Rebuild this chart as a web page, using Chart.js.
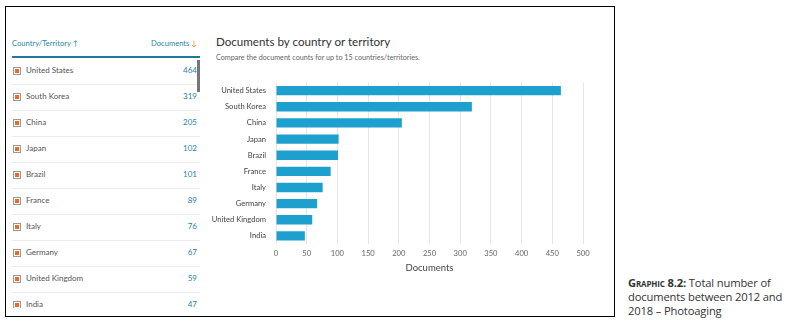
<!DOCTYPE html>
<html>
<head>
<meta charset="utf-8">
<script src="https://cdn.jsdelivr.net/npm/chart.js@4"></script>
<style>
  body { margin: 0; width: 787px; height: 321px; background: #fff; position: relative; font-family: Lato, "Open Sans", sans-serif; overflow: hidden; }
  #frame { position: absolute; left: 5px; top: 6px; width: 608px; height: 309px; border: 1px solid #000; }
  #tbl { position: absolute; left: 12px; top: 36px; width: 188px; height: 272px; overflow: hidden; }
  .hdr { position: absolute; top: 2px; height: 18px; font-size: 7.6px; color: #2a86a8; }
  #hline { position: absolute; left: 0; top: 20px; width: 188px; height: 1.5px; background: #1f7a9a; }
  .row { position: absolute; left: 0; width: 188px; height: 26px; border-bottom: 1px solid #ededed; font-size: 8px; color: #555; }
  .row .cb { position: absolute; left: 1px; top: 9px; width: 6px; height: 6px; border: 1px solid #999; background: #f26a22; box-shadow: inset 0 0 0 1px #fff; }
  .row .nm { position: absolute; left: 14px; top: 7px; }
  .row .vl { position: absolute; right: 3px; top: 7px; color: #2a7fa8; }
  #scroll { position: absolute; left: 197px; top: 60px; width: 3px; height: 32px; background: #777; }
  #title { position: absolute; left: 216px; top: 35px; font-size: 11.6px; color: #333; }
  #sub { position: absolute; left: 216px; top: 53px; font-size: 7.2px; color: #666; }
  #wrap { position: absolute; left: 205px; top: 76px; width: 400px; height: 202px; }
  #cap { position: absolute; left: 628px; top: 276px; font-size: 11.2px; letter-spacing: -0.15px; line-height: 14px; color: #333; font-family: "Open Sans", sans-serif; white-space: nowrap; }
  .sc { font-weight: bold; font-variant: small-caps; }
</style>
</head>
<body>
<div id="frame"></div>
<div id="tbl">
  <div class="hdr" style="left:0">Country/Territory <span>&#8593;</span></div>
  <div class="hdr" style="right:3px">Documents <span style="color:#f07a2a">&#8595;</span></div>
  <div id="hline"></div>
</div>
<div id="scroll"></div>
<div id="title">Documents by country or territory</div>
<div id="sub">Compare the document counts for up to 15 countries/territories.</div>
<div id="wrap"><canvas id="chart"></canvas></div>
<div id="cap"><span class="sc">Graphic 8.2:</span> Total number of<br>documents between 2012 and<br>2018 – Photoaging</div>
<script>
const countries = ['United States', 'South Korea', 'China', 'Japan', 'Brazil', 'France', 'Italy', 'Germany', 'United Kingdom', 'India'];
const documents = [464, 319, 205, 102, 101, 89, 76, 67, 59, 47];
const xTicks = [0, 50, 100, 150, 200, 250, 300, 350, 400, 450, 500];

// table rows on the left
const tbl = document.getElementById('tbl');
countries.forEach((c, i) => {
  const r = document.createElement('div');
  r.className = 'row';
  r.style.top = (22 + i * 26) + 'px';
  r.innerHTML = '<div class="cb"></div><div class="nm">' + c + '</div><div class="vl">' + documents[i] + '</div>';
  tbl.appendChild(r);
});

new Chart(document.getElementById('chart'), {
  type: 'bar',
  data: {
    labels: countries,
    datasets: [{
      label: 'Documents',
      data: documents,
      backgroundColor: '#1ea0cf',
      barPercentage: 0.58,
      categoryPercentage: 1
    }]
  },
  options: {
    indexAxis: 'y',
    responsive: true,
    maintainAspectRatio: false,
    animation: false,
    layout: { padding: { top: 1, right: 22, bottom: 0, left: 0 } },
    plugins: { legend: { display: false }, tooltip: { enabled: false } },
    scales: {
      x: {
        min: 0, max: 500,
        afterBuildTicks: s => { s.ticks = xTicks.map(v => ({ value: v })); },
        grid: { color: '#e6e6e6', drawTicks: false },
        border: { display: false },
        ticks: { color: '#666', font: { size: 7.6, family: 'Lato' }, padding: 5 },
        title: { display: true, text: 'Documents', color: '#444', font: { size: 9.5, family: 'Lato' }, padding: { top: 4 } },
        afterFit: s => { s.height = 34; }
      },
      y: {
        grid: { display: false },
        border: { display: false },
        ticks: { color: '#444', font: { size: 7.6, family: 'Lato' }, padding: 2 },
        afterFit: s => { s.width = 71; }
      }
    }
  }
});
</script>
</body>
</html>
